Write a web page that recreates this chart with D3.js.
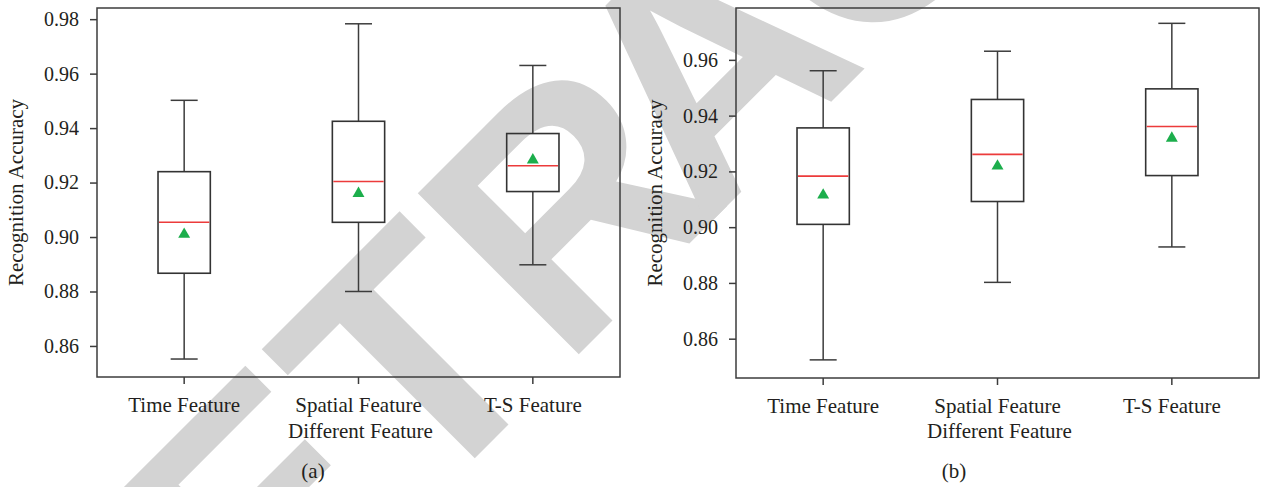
<!DOCTYPE html>
<html>
<head>
<meta charset="utf-8">
<script src="https://cdn.jsdelivr.net/npm/d3@7"></script>
<style>
	body { margin: 0; background: #fff; }
	svg { display: block; }
</style>
</head>
<body>
<svg width="1261" height="487"></svg>
<script>

// Data

const categories = ["Time Feature", "Spatial Feature", "T-S Feature"];

// panel (a)
const lowA = [0.8552, 0.8800, 0.8898];
const q1A = [0.8867, 0.9054, 0.9167];
const medianA = [0.9054, 0.9204, 0.9262];
const q3A = [0.9240, 0.9425, 0.9380];
const highA = [0.9502, 0.9783, 0.9630];
const meanA = [0.9010, 0.9160, 0.9283];
const ticksA = [0.86, 0.88, 0.90, 0.92, 0.94, 0.96, 0.98];

// panel (b)
const lowB = [0.8524, 0.8802, 0.8929];
const q1B = [0.9010, 0.9092, 0.9185];
const medianB = [0.9183, 0.9261, 0.9361];
const q3B = [0.9356, 0.9458, 0.9496];
const highB = [0.9561, 0.9631, 0.9731];
const meanB = [0.9115, 0.9219, 0.9319];
const ticksB = [0.86, 0.88, 0.90, 0.92, 0.94, 0.96];

const yTitle = "Recognition Accuracy";
const xTitle = "Different Feature";
const watermark = "RETRACTED";

// Setup

var svg = d3.select("svg"),
	textColor = "#231f20",
	lineColor = "#3c3c3c",
	serif = "'Liberation Serif', 'Times New Roman', serif";

// watermark behind the charts
svg.append("text")
	.attr("transform", "translate(95,838) rotate(-45)")
	.attr("dx", "0 0 0 0 -43 -15")
	.attr("font-family", "'Liberation Sans', Arial, sans-serif")
	.attr("font-weight", "bold")
	.attr("font-size", 331)
	.style("font-kerning", "none")
	.attr("fill", "#d3d3d3")
	.text(watermark);

// Panel

function drawPanel(p) {
	const g = svg.append("g");

	const x = d3.scaleBand()
		.domain(categories)
		.range([p.left, p.right]);

	const y = d3.scaleLinear()
		.domain(p.domain)
		.range([p.bottom, p.top]);

	const boxes = categories.map((c, i) => ({
		c,
		low: p.low[i],
		q1: p.q1[i],
		median: p.median[i],
		q3: p.q3[i],
		high: p.high[i],
		mean: p.mean[i]
	}));

	const boxW = x.bandwidth() * 0.3,
		capW = x.bandwidth() * 0.155,
		cx = d => x(d.c) + x.bandwidth() / 2;

	// axes
	g.append("g")
		.attr("transform", `translate(0,${p.bottom})`)
		.call(d3.axisBottom(x).tickSize(7).tickPadding(13))
		.call(a => a.select(".domain").remove())
		.call(a => a.selectAll("line").attr("stroke", lineColor).attr("stroke-width", 1.5))
		.call(a => a.selectAll("text")
			.attr("fill", textColor)
			.attr("font-family", serif)
			.attr("font-size", 21));

	g.append("g")
		.attr("transform", `translate(${p.left},0)`)
		.call(d3.axisLeft(y).tickValues(p.ticks).tickFormat(d3.format(".2f")).tickSize(7).tickPadding(11))
		.call(a => a.select(".domain").remove())
		.call(a => a.selectAll("line").attr("stroke", lineColor).attr("stroke-width", 1.5))
		.call(a => a.selectAll("text")
			.attr("fill", textColor)
			.attr("font-family", serif)
			.attr("font-size", 20));

	// frame
	g.append("rect")
		.attr("x", p.left)
		.attr("y", p.top)
		.attr("width", p.right - p.left)
		.attr("height", p.bottom - p.top)
		.attr("fill", "none")
		.attr("stroke", lineColor)
		.attr("stroke-width", 1.5);

	// boxes
	const b = g.append("g")
		.selectAll("g")
		.data(boxes)
		.join("g");

	b.append("line")
		.attr("x1", cx).attr("x2", cx)
		.attr("y1", d => y(d.low)).attr("y2", d => y(d.q1))
		.attr("stroke", lineColor).attr("stroke-width", 1.5);

	b.append("line")
		.attr("x1", cx).attr("x2", cx)
		.attr("y1", d => y(d.q3)).attr("y2", d => y(d.high))
		.attr("stroke", lineColor).attr("stroke-width", 1.5);

	b.append("line")
		.attr("x1", d => cx(d) - capW / 2).attr("x2", d => cx(d) + capW / 2)
		.attr("y1", d => y(d.low)).attr("y2", d => y(d.low))
		.attr("stroke", lineColor).attr("stroke-width", 1.5);

	b.append("line")
		.attr("x1", d => cx(d) - capW / 2).attr("x2", d => cx(d) + capW / 2)
		.attr("y1", d => y(d.high)).attr("y2", d => y(d.high))
		.attr("stroke", lineColor).attr("stroke-width", 1.5);

	b.append("rect")
		.attr("x", d => cx(d) - boxW / 2)
		.attr("y", d => y(d.q3))
		.attr("width", boxW)
		.attr("height", d => y(d.q1) - y(d.q3))
		.attr("fill", "none")
		.attr("stroke", "#333")
		.attr("stroke-width", 1.6);

	b.append("line")
		.attr("x1", d => cx(d) - boxW / 2 + 1).attr("x2", d => cx(d) + boxW / 2 - 1)
		.attr("y1", d => y(d.median)).attr("y2", d => y(d.median))
		.attr("stroke", "#ec3b3b").attr("stroke-width", 1.6);

	b.append("path")
		.attr("transform", d => `translate(${cx(d)},${y(d.mean)})`)
		.attr("d", d3.symbol(d3.symbolTriangle, 62))
		.attr("fill", "#1cae4c");

	// titles
	g.append("text")
		.attr("transform", `translate(${p.left - 74},${(p.top + p.bottom) / 2}) rotate(-90)`)
		.attr("text-anchor", "middle")
		.attr("fill", textColor)
		.attr("font-family", serif)
		.attr("font-size", 21)
		.text(yTitle);

	g.append("text")
		.attr("x", (p.left + p.right) / 2 + 2)
		.attr("y", 438)
		.attr("text-anchor", "middle")
		.attr("fill", textColor)
		.attr("font-family", serif)
		.attr("font-size", 21)
		.text(xTitle);

	g.append("text")
		.attr("x", p.labelX)
		.attr("y", 478)
		.attr("text-anchor", "middle")
		.attr("fill", textColor)
		.attr("font-family", serif)
		.attr("font-size", 21)
		.text(p.label);
}

drawPanel({
	left: 97, right: 620, top: 8, bottom: 377,
	domain: [0.8486, 0.9841], ticks: ticksA,
	low: lowA, q1: q1A, median: medianA, q3: q3A, high: highA, mean: meanA,
	label: "(a)", labelX: 313
});

drawPanel({
	left: 736, right: 1259, top: 8, bottom: 378,
	domain: [0.8459, 0.9786], ticks: ticksB,
	low: lowB, q1: q1B, median: medianB, q3: q3B, high: highB, mean: meanB,
	label: "(b)", labelX: 954
});

</script>
</body>
</html>
